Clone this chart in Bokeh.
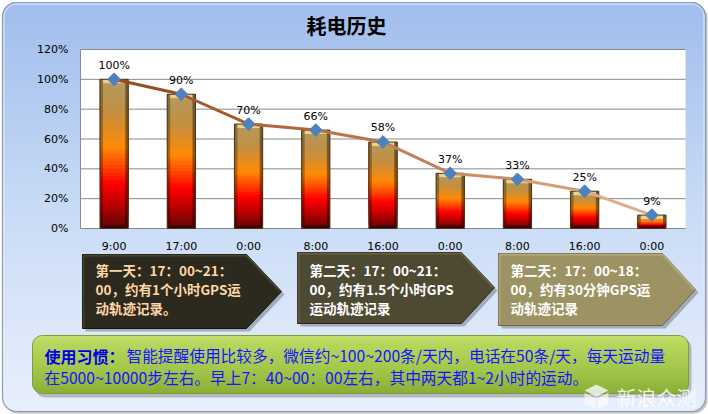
import numpy as np
from bokeh.plotting import figure
from bokeh.models import Range1d
from bokeh.core.properties import value
from bokeh.embed import file_html
from bokeh.resources import INLINE

# ---------------- data ----------------
title_text = "耗电历史"
times = ["9:00", "17:00", "0:00", "8:00", "16:00", "0:00", "8:00", "16:00", "0:00"]
battery = [100, 90, 70, 66, 58, 37, 33, 25, 9]
y_ticks = [0, 20, 40, 60, 80, 100, 120]
y_tick_labels = ["0%", "20%", "40%", "60%", "80%", "100%", "120%"]

box1_lines = ["第一天：17：00~21：", "00，约有1个小时GPS运", "动轨迹记录。"]
box2_lines = ["第二天：17：00~21：", "00，约有1.5个小时GPS", "运动轨迹记录"]
box3_lines = ["第二天：17：00~18：", "00，约有30分钟GPS运", "动轨迹记录"]
habit_head = "使用习惯："
habit_line1 = "智能提醒使用比较多，微信约~100~200条/天内，电话在50条/天，每天运动量"
habit_line2 = "在5000~10000步左右。早上7：40~00：00左右，其中两天都1~2小时的运动。"
watermark = "新浪众测"

# ---------------- layout constants ----------------
W, H = 708, 414
PL, PR, PT, PB = 80, 685, 49, 228
YMAX = 120
n = len(battery)
cat_w = (PR - PL) / n
x_start = -0.5 - PL / cat_w
x_end = n - 0.5 + (W - PR) / cat_w
ypp = YMAX / (PB - PT)
y_start = -(H - PB) * ypp
y_end = PB * ypp

CJK = value("Noto Sans CJK SC")
LAT = value("DejaVu Sans")


def hex2rgb(h):
    h = h.lstrip("#")
    return np.array([int(h[i:i + 2], 16) for i in (0, 2, 4)], dtype=float)


def lerp(stops, f):
    for (p0, c0), (p1, c1) in zip(stops[:-1], stops[1:]):
        if f <= p1:
            t = 0 if p1 == p0 else (f - p0) / (p1 - p0)
            c = hex2rgb(c0) * (1 - t) + hex2rgb(c1) * t
            return "#%02x%02x%02x" % tuple(int(round(v)) for v in c)
    return stops[-1][1]


def rr_poly(x0, y0, x1, y1, r, k=10):
    xs, ys = [], []
    corners = [(x1 - r, y0 + r, -90, 0), (x1 - r, y1 - r, 0, 90),
               (x0 + r, y1 - r, 90, 180), (x0 + r, y0 + r, 180, 270)]
    for cx, cy, a0, a1 in corners:
        for a in np.linspace(np.radians(a0), np.radians(a1), k):
            xs.append(cx + r * np.cos(a))
            ys.append(cy + r * np.sin(a))
    return xs, ys


def rr_inset(yc, y0, y1, r):
    if yc < y0 + r:
        d = y0 + r - yc
    elif yc > y1 - r:
        d = yc - (y1 - r)
    else:
        return 0.0
    return r - np.sqrt(max(r * r - d * d, 0.0))


def gradient_rr(p, x0, y0, x1, y1, r, stops, step=1):
    lefts, rights, tops, bottoms, cols = [], [], [], [], []
    yy = y0
    while yy < y1:
        yc = yy + step / 2
        ins = rr_inset(yc, y0, y1, r)
        lefts.append(x0 + ins)
        rights.append(x1 - ins)
        tops.append(yy)
        bottoms.append(min(yy + step + 0.6, y1))
        cols.append(lerp(stops, (yc - y0) / (y1 - y0)))
        yy += step
    p.quad(left=lefts, right=rights, top=tops, bottom=bottoms,
           fill_color=cols, line_color=None)


p = figure(width=W, height=H, x_range=Range1d(0, W), y_range=Range1d(H, 0),
           output_backend="svg", toolbar_location=None, min_border=0,
           x_axis_location=None, y_axis_location=None,
           outline_line_color=None, background_fill_color="white",
           border_fill_color="white")
p.grid.visible = False
p.extra_x_ranges = {"cat": Range1d(x_start, x_end)}
p.extra_y_ranges = {"pct": Range1d(y_start, y_end)}

# ---------------- outer panel ----------------
sx, sy = rr_poly(3.5, 3.5, 707, 413, 14)
p.patch(sx, sy, fill_color="#9a9a9a", fill_alpha=0.6, line_color=None)
panel_stops = [(0.0, "#a2bdec"), (0.12, "#aac4ef"), (0.45, "#c4d8f5"),
               (0.72, "#d7e4f9"), (1.0, "#e8effb")]
gradient_rr(p, 2, 2, 705, 411, 14, panel_stops, step=2)
bx, by = rr_poly(2, 2, 705, 411, 14)
p.patch(bx, by, fill_alpha=0, line_color="#8e9cb2", line_width=1.2)
ix, iy = rr_poly(3.5, 3.5, 703.5, 409.5, 13)
p.patch(ix, iy, fill_alpha=0, line_color="#dfe9fb", line_width=1.0)

# title
p.text(x=[346], y=[25], text=[title_text], text_font=CJK, text_font_style="bold",
       text_font_size="20px", text_color="#000000", text_align="center",
       text_baseline="middle")

# ---------------- plot area ----------------
idx = np.arange(n)
R = dict(x_range_name="cat", y_range_name="pct")
p.quad(left=[-0.5], right=[n - 0.5], bottom=[0], top=[YMAX],
       fill_color="white", line_color=None, **R)
p.segment(x0=[-0.5] * len(y_ticks), x1=[n - 0.5] * len(y_ticks), y0=y_ticks,
          y1=y_ticks, line_color="#8a8a8a", line_width=1, **R)
p.segment(x0=[-0.5], x1=[-0.5], y0=[0], y1=[YMAX], line_color="#8a8a8a",
          line_width=1, **R)

# y tick labels
p.text(x=[-0.5] * len(y_ticks), y=y_ticks, text=y_tick_labels, x_offset=-12,
       text_font=LAT, text_font_size="11px", text_color="#000000",
       text_align="right", text_baseline="middle", **R)
# x labels
p.text(x=idx, y=[0] * n, text=times, y_offset=18, text_font=LAT,
       text_font_size="11px", text_color="#000000", text_align="center",
       text_baseline="middle", **R)

# bars with vertical gradient (each slice runs from its base to the bar top,
# later slices overdraw earlier ones so no seams appear)
bar_stops = [(0.0, "#b39a60"), (0.22, "#c28f42"), (0.45, "#ff8a06"),
             (0.58, "#ff4800"), (0.70, "#ff0000"), (0.86, "#b20000"),
             (1.0, "#5a0808")]
hw = 0.21
N = 40
L, Rr, T, B, C = [], [], [], [], []
for j in range(N):
    for i, v in enumerate(battery):
        L.append(i - hw)
        Rr.append(i + hw)
        B.append(v * j / N)
        T.append(v)
        C.append(lerp(bar_stops, 1 - (j + 0.5) / N))
p.quad(left=L, right=Rr, top=T, bottom=B, fill_color=C, line_color=None, **R)
side = 3.0 / cat_w
cap = 4.0 * ypp
bars_x = idx.astype(float)
p.quad(left=bars_x - hw, right=bars_x - hw + side, top=battery, bottom=[0] * n,
       fill_color="#000000", fill_alpha=0.28, line_color=None, **R)
p.quad(left=bars_x + hw - side, right=bars_x + hw, top=battery, bottom=[0] * n,
       fill_color="#000000", fill_alpha=0.38, line_color=None, **R)
p.quad(left=bars_x - hw + side, right=bars_x + hw - side,
       top=battery, bottom=[max(v - cap, 0) for v in battery],
       fill_color="#f6dc8e", fill_alpha=0.85, line_color=None, **R)
p.quad(left=bars_x - hw + side, right=bars_x + hw - side,
       top=[min(cap * 0.8, v * 0.3) for v in battery], bottom=[0] * n,
       fill_color="#000000", fill_alpha=0.35, line_color=None, **R)
p.quad(left=bars_x - hw, right=bars_x + hw, top=battery, bottom=[0] * n,
       fill_alpha=0, line_color="#4a3415", line_width=1, **R)

# trend line with color shifting from dark to light brown
line_stops = [(0.0, "#9c4a22"), (0.5, "#c07a4e"), (1.0, "#deac88")]
seg_cols = [lerp(line_stops, k / (n - 2)) for k in range(n - 1)]
p.segment(x0=idx[:-1], y0=battery[:-1], x1=idx[1:], y1=battery[1:],
          line_color=seg_cols, line_width=3, line_cap="round", **R)
p.scatter(x=idx, y=battery, marker="square", angle=np.pi / 4, size=9,
          fill_color="#4f81bd", line_color="#4f81bd", **R)
p.text(x=idx, y=battery, text=[f"{v}%" for v in battery], y_offset=-14,
       text_font=LAT, text_font_size="11px", text_color="#000000",
       text_align="center", text_baseline="middle", **R)


# ---------------- arrow boxes ----------------
def arrow(x0, xb, xt, y0, y1, ym, fill, edge_light, edge_dark):
    xs = [x0, xb, xt, xb, x0]
    ys = [y0, y0, ym, y1, y1]
    p.patch([x + 3 for x in xs], [y + 3 for y in ys], fill_color="#000000",
            fill_alpha=0.25, line_color=None)
    p.patch(xs, ys, fill_color=fill, line_color=edge_dark, line_width=1)
    p.line([x0 + 1, xb, xt - 1], [y0 + 1, y0 + 1, ym], line_color=edge_light,
           line_width=2, line_alpha=0.6)
    p.line([x0 + 1, x0 + 1], [y0 + 1, y1 - 1], line_color=edge_light,
           line_width=2, line_alpha=0.5)


arrow(82, 246, 281, 254, 328, 291, "#2c2a1f", "#5a5640", "#141308")
arrow(297, 461, 494, 252, 323, 287, "#4e4933", "#77704f", "#2a2718")
arrow(498, 662, 695, 253, 325, 289, "#9d9264", "#c4b98a", "#6c6440")

line_y = [269, 288, 307]
p.text(x=[95] * 3, y=line_y, text=box1_lines, text_font=CJK,
       text_font_style="bold", text_font_size="13.5px", text_color="#ffd6a6",
       text_align="left", text_baseline="middle")
p.text(x=[309] * 3, y=line_y, text=box2_lines, text_font=CJK,
       text_font_style="bold", text_font_size="13.5px", text_color="#ffffff",
       text_align="left", text_baseline="middle")
p.text(x=[510] * 3, y=line_y, text=box3_lines, text_font=CJK,
       text_font_style="bold", text_font_size="13.5px", text_color="#ffffff",
       text_align="left", text_baseline="middle")

# ---------------- green habit box ----------------
gx, gy = rr_poly(35, 338, 691, 397, 10)
p.patch(gx, gy, fill_color="#000000", fill_alpha=0.22, line_color=None)
green_stops = [(0.0, "#c4e070"), (0.15, "#b6d65c"), (0.6, "#a2c64a"),
               (1.0, "#8aae36")]
gradient_rr(p, 32, 335, 688, 393, 10, green_stops, step=1)
ox, oy = rr_poly(32, 335, 688, 393, 10)
p.patch(ox, oy, fill_alpha=0, line_color="#7d9e30", line_width=1)

p.text(x=[44], y=[355], text=[habit_head], text_font=CJK, text_font_style="bold",
       text_font_size="16px", text_color="#0000e6", text_align="left",
       text_baseline="middle")
p.text(x=[126, 44], y=[355, 377], text=[habit_line1, habit_line2], text_font=CJK,
       text_font_size="15.7px", text_color="#1414ff", text_align="left",
       text_baseline="middle")

# ---------------- watermark ----------------
cx, cy, s = 596, 396, 12
p.patch([cx - s, cx, cx + s, cx], [cy - 6, cy - 12, cy - 6, cy], fill_color="#ffffff",
        fill_alpha=0.75, line_color=None)
p.patch([cx - s, cx - 1, cx - 1, cx - s], [cy - 4, cy + 2, cy + 13, cy + 7],
        fill_color="#ffffff", fill_alpha=0.55, line_color=None)
p.patch([cx + 1, cx + s, cx + s, cx + 1], [cy + 2, cy - 4, cy + 7, cy + 13],
        fill_color="#ffffff", fill_alpha=0.65, line_color=None)
p.text(x=[616], y=[397], text=[watermark], text_font=CJK, text_font_size="20px",
       text_color="#ffffff", text_alpha=0.85, text_align="left",
       text_baseline="middle")

open("out.html", "w").write(file_html(p, INLINE))
